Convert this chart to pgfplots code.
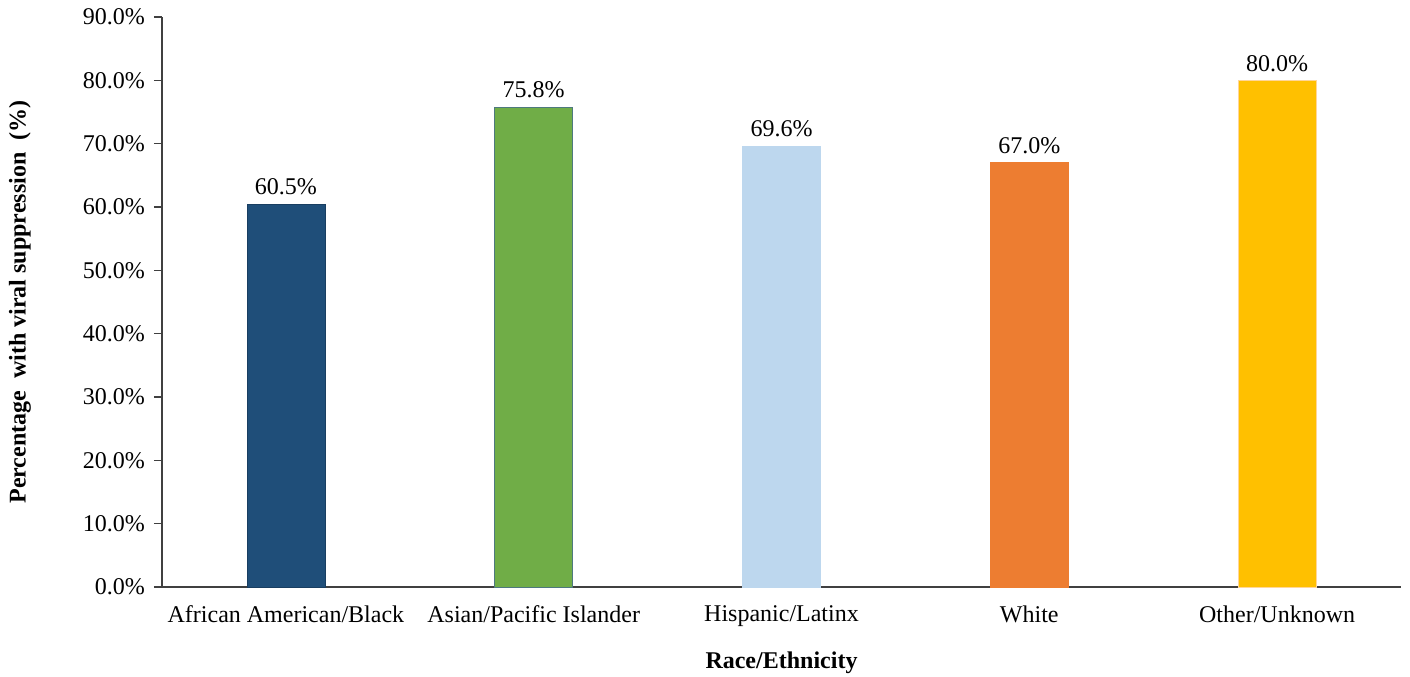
\documentclass[border=0pt]{standalone}
\usepackage{pgfplots}
\pgfplotsset{compat=1.18}
\usepackage{fontspec}
\setmainfont{Liberation Serif}
\definecolor{cA}{HTML}{1F4E79}
\definecolor{cB}{HTML}{70AD47}
\definecolor{cC}{HTML}{BDD7EE}
\definecolor{cD}{HTML}{ED7D31}
\definecolor{cE}{HTML}{FFC000}
\definecolor{axc}{HTML}{404040}
\begin{document}
\begin{tikzpicture}
\path[use as bounding box] (-81pt,-44.5pt) rectangle (624pt,293.5pt);
\begin{axis}[
  at={(0,0)}, anchor=south west,
  scale only axis, width=619.5pt, height=285pt,
  xmin=-0.5, xmax=4.5, ymin=0, ymax=90,
  axis x line*=bottom, axis y line*=left,
  axis line style={axc, line width=0.6pt},
  xtick={0,1,2,3,4},
  xticklabels={African American/Black, Asian/Pacific Islander, Hispanic/Latinx, White, Other/Unknown},
  major x tick style={draw=none},
  ytick={0,10,...,90},
  y tick style={axc, line width=0.6pt},
  tick align=outside, major tick length=4pt,
  yticklabel={\pgfmathprintnumber[fixed,fixed zerofill,precision=1]{\tick}\%},
  /pgf/number format/assume math mode=true,
  tick label style={font=\fontsize{12}{14}\selectfont, text=black},
  yticklabel style={xshift=-1pt},
  xticklabel style={yshift=-2pt},
  xlabel={\textbf{Race/Ethnicity}},
  ylabel={\textbf{Percentage\ \ with viral suppression\ \ (\%)}},
  label style={font=\fontsize{12}{14}\selectfont},
  xlabel style={at={(axis description cs:0.5,-0.1333)}, anchor=center},
  ylabel style={at={(axis description cs:-0.1146,0.5)}, anchor=center},
  ybar, bar width=39pt, bar shift=0pt,
  nodes near coords={\pgfmathprintnumber[fixed,fixed zerofill,precision=1]{\pgfplotspointmeta}\%},
  nodes near coords style={font=\fontsize{12}{14}\selectfont, text=black, /pgf/number format/assume math mode=true, yshift=1pt},
  clip=false,
]
\addplot[fill=cA, draw=cA!80!black, line width=0.3pt] coordinates {(0,60.5)};
\addplot[fill=cB, draw=cB!70!blue, line width=0.3pt] coordinates {(1,75.8)};
\addplot[fill=cC, draw=cC, line width=0.3pt] coordinates {(2,69.6)};
\addplot[fill=cD, draw=cD, line width=0.3pt] coordinates {(3,67.0)};
\addplot[fill=cE, draw=cE!80!red!40!white, line width=0.3pt] coordinates {(4,80.0)};
\end{axis}
\end{tikzpicture}
\end{document}
